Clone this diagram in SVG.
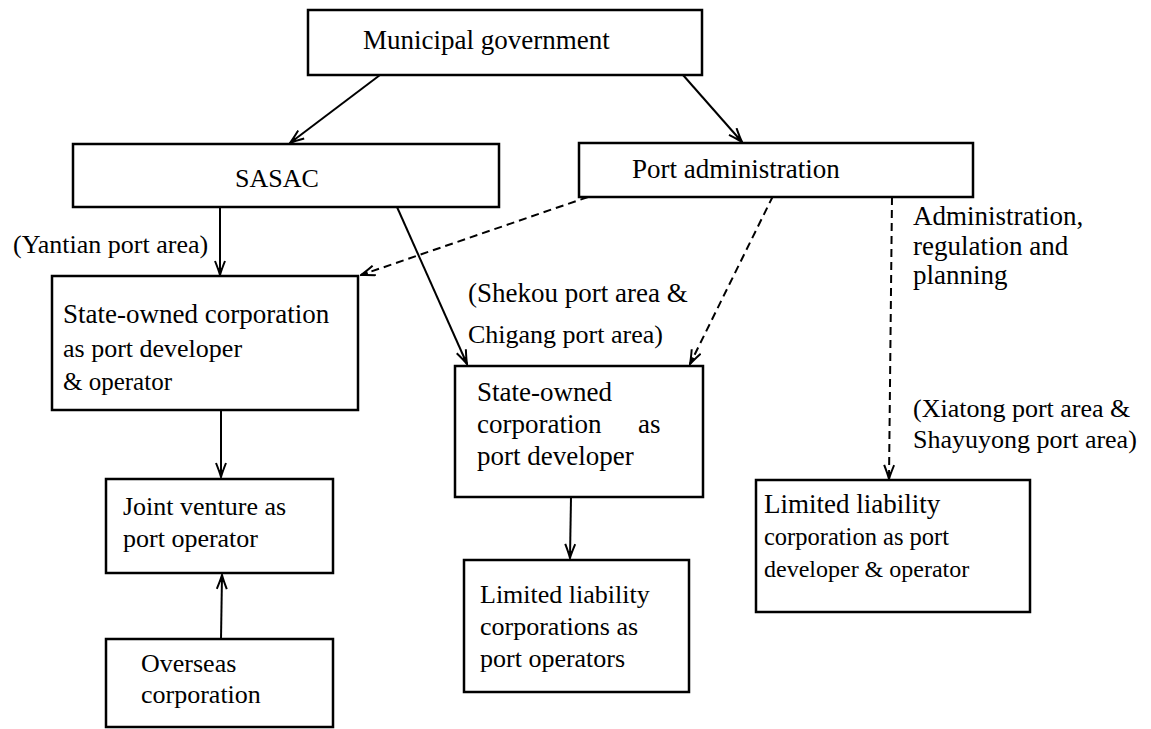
<svg xmlns="http://www.w3.org/2000/svg" width="1151" height="729" viewBox="0 0 1151 729">
<style>
.box{fill:#fff;stroke:#000;stroke-width:2.5}
.ln{fill:none;stroke:#000;stroke-width:2}
.dash{stroke-dasharray:8 5}
</style>
<defs>
<marker id="ah" markerUnits="userSpaceOnUse" markerWidth="16" markerHeight="12" viewBox="0 0 16 12" refX="15" refY="6" orient="auto">
<path d="M1,1 Q10,4.6 15,6 Q10,7.4 1,11" fill="none" stroke="#000" stroke-width="2"/>
<path d="M8,4 L15,6 L8,8 Z" fill="#000"/>
</marker>
</defs>
<rect width="1151" height="729" fill="#fff"/>
<g id="connectors">
<line class="ln" x1="380" y1="75" x2="290" y2="143" marker-end="url(#ah)"/>
<line class="ln" x1="683" y1="75" x2="742" y2="142" marker-end="url(#ah)"/>
<line class="ln" x1="220" y1="207" x2="220" y2="275" marker-end="url(#ah)"/>
<line class="ln" x1="397" y1="207" x2="467" y2="364" marker-end="url(#ah)"/>
<line class="ln dash" x1="588" y1="197" x2="361" y2="275" marker-end="url(#ah)"/>
<line class="ln dash" x1="773" y1="196" x2="690" y2="364" marker-end="url(#ah)"/>
<line class="ln dash" x1="892" y1="197" x2="889" y2="479" marker-end="url(#ah)"/>
<line class="ln" x1="221" y1="410" x2="221" y2="477" marker-end="url(#ah)"/>
<line class="ln" x1="221" y1="639" x2="222" y2="575" marker-end="url(#ah)"/>
<line class="ln" x1="571" y1="497" x2="570" y2="558" marker-end="url(#ah)"/>
</g>
<g id="municipal">
<rect class="box" x="308" y="10" width="394" height="65"/>
<text x="363" y="49" font-family="Liberation Serif, Times New Roman, serif" font-size="27">Municipal government</text>
</g>
<g id="sasac">
<rect class="box" x="73" y="144" width="426" height="63"/>
<text x="235" y="187" font-family="Liberation Serif, Times New Roman, serif" font-size="26">SASAC</text>
</g>
<g id="port-admin">
<rect class="box" x="579" y="143" width="394" height="54"/>
<text x="632" y="178" font-family="Liberation Serif, Times New Roman, serif" font-size="27">Port administration</text>
</g>
<g id="labels">
<text x="13" y="253" font-family="Liberation Serif, Times New Roman, serif" font-size="26">(Yantian port area)</text>
<text x="468" y="302" font-family="Liberation Serif, Times New Roman, serif" font-size="27">(Shekou port area &amp;</text>
<text x="468" y="343" font-family="Liberation Serif, Times New Roman, serif" font-size="26">Chigang port area)</text>
<text x="913" y="225" font-family="Liberation Serif, Times New Roman, serif" font-size="27">Administration,</text>
<text x="913" y="255" font-family="Liberation Serif, Times New Roman, serif" font-size="27">regulation and</text>
<text x="913" y="284" font-family="Liberation Serif, Times New Roman, serif" font-size="27">planning</text>
<text x="913" y="417" font-family="Liberation Serif, Times New Roman, serif" font-size="26">(Xiatong port area &amp;</text>
<text x="913" y="448" font-family="Liberation Serif, Times New Roman, serif" font-size="26">Shayuyong port area)</text>
</g>
<g id="soc-dev-op">
<rect class="box" x="52" y="276" width="306" height="134"/>
<text x="63" y="323" font-family="Liberation Serif, Times New Roman, serif" font-size="27">State-owned corporation</text>
<text x="63" y="357" font-family="Liberation Serif, Times New Roman, serif" font-size="26">as port developer</text>
<text x="63" y="390" font-family="Liberation Serif, Times New Roman, serif" font-size="25">&amp; operator</text>
</g>
<g id="soc-dev">
<rect class="box" x="455" y="366" width="248" height="131"/>
<text x="477" y="401" font-family="Liberation Serif, Times New Roman, serif" font-size="27">State-owned</text>
<text x="477" y="433" font-family="Liberation Serif, Times New Roman, serif" font-size="27">corporation</text>
<text x="638" y="433" font-family="Liberation Serif, Times New Roman, serif" font-size="27">as</text>
<text x="477" y="465" font-family="Liberation Serif, Times New Roman, serif" font-size="27">port developer</text>
</g>
<g id="joint-venture">
<rect class="box" x="106" y="479" width="227" height="94"/>
<text x="123" y="515" font-family="Liberation Serif, Times New Roman, serif" font-size="26">Joint venture as</text>
<text x="123" y="547" font-family="Liberation Serif, Times New Roman, serif" font-size="26">port operator</text>
</g>
<g id="overseas">
<rect class="box" x="106" y="639" width="227" height="88"/>
<text x="141" y="672" font-family="Liberation Serif, Times New Roman, serif" font-size="26">Overseas</text>
<text x="141" y="703" font-family="Liberation Serif, Times New Roman, serif" font-size="26">corporation</text>
</g>
<g id="llc-operators">
<rect class="box" x="464" y="560" width="225" height="132"/>
<text x="480" y="603" font-family="Liberation Serif, Times New Roman, serif" font-size="26">Limited liability</text>
<text x="480" y="635" font-family="Liberation Serif, Times New Roman, serif" font-size="26">corporations as</text>
<text x="480" y="667" font-family="Liberation Serif, Times New Roman, serif" font-size="26">port operators</text>
</g>
<g id="llc-dev-op">
<rect class="box" x="756" y="480" width="274" height="132"/>
<text x="764" y="513" font-family="Liberation Serif, Times New Roman, serif" font-size="27">Limited liability</text>
<text x="764" y="545" font-family="Liberation Serif, Times New Roman, serif" font-size="24.5">corporation as port</text>
<text x="764" y="577" font-family="Liberation Serif, Times New Roman, serif" font-size="24">developer &amp; operator</text>
</g>
</svg>
